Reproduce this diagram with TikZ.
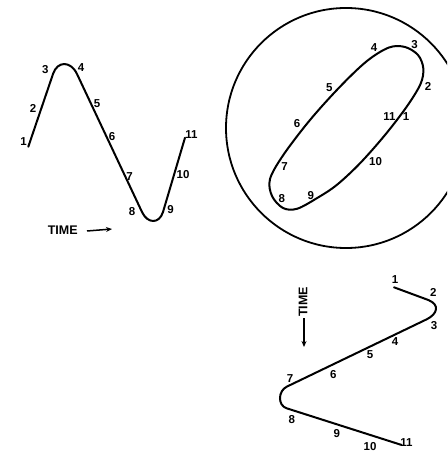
\documentclass[tikz,border=0pt]{standalone}
\usepackage{fontspec}
\setmainfont{Liberation Sans}
\usetikzlibrary{arrows.meta}
\begin{document}
\begin{tikzpicture}[x=1pt,y=-1pt,
  curve/.style={line width=2pt,line cap=round,line join=round},
  ring/.style={line width=1.8pt},
  num/.style={font=\fontsize{11.5}{13}\selectfont\bfseries,inner sep=0pt},
  timelbl/.style={font=\fontsize{12.5}{14}\selectfont\bfseries,inner sep=0pt},
  timearrow/.style={line width=1.5pt,-{Stealth[length=6pt,width=5pt]}}]
\useasboundingbox (0,0) rectangle (447,454);
\clip (0,0) rectangle (447,454);
% ---------- top left: wave ----------
\draw[curve] (28.3,146.7) -- (53,74) .. controls (57.4,60.7) and (70.7,60.7) .. (77,74)
  -- (142,212) .. controls (147.6,224) and (159.3,224) .. (163,212) -- (185,137.7);
\node[num] (a1) at (23.5,141.7) {1};
\node[num] (a2) at (33,108.3) {2};
\node[num] (a3) at (45.2,69.5) {3};
\node[num] (a4) at (81,67.3) {4};
\node[num] (a5) at (97,103.3) {5};
\node[num] (a6) at (112,136.7) {6};
\node[num] (a7) at (129.5,176.7) {7};
\node[num] (a8) at (132,211.7) {8};
\node[num] (a9) at (170.5,209.3) {9};
\node[num] (a10) at (183,174.3) {10};
\node[num] (a11) at (191.5,135) {11};
\node[timelbl] (at) at (62.7,230.5) {TIME};
\coordinate (ata) at (87,231);
\coordinate (atb) at (112,229);
\draw[timearrow] (ata) -- (atb);
% ---------- top right: circle and loop ----------
\draw[ring] (346,128) circle[radius=120pt];
\draw[curve] plot[smooth cycle,tension=0.55] coordinates {
  (423.3,68.3) (420.5,84) (406.7,106.7) (385,135) (360,163.3) (336.7,185)
  (316.7,198.3) (297,208.8) (283,208) (272,196) (270,179) (283.3,155)
  (310,120) (340,86.7) (367,61) (389,47.5) (405,47) (418,55)};
\node[num] (b4) at (374,47.8) {4};
\node[num] (b3) at (414.5,45) {3};
\node[num] (b2) at (428,86) {2};
\node[num] (b1) at (406,116.7) {1};
\node[num] (b11) at (389.5,116.7) {11};
\node[num] (b10) at (375.5,161.7) {10};
\node[num] (b9) at (310.7,196) {9};
\node[num] (b8) at (281.7,198.3) {8};
\node[num] (b7) at (284.5,166.7) {7};
\node[num] (b6) at (297,124) {6};
\node[num] (b5) at (329.3,88) {5};
% ---------- bottom right: zigzag ----------
\draw[curve] (394,287.3) -- (428.3,300) .. controls (439.8,304.6) and (437.8,313.8) .. (426.7,319.3)
  -- (286.7,386.7) .. controls (278,391) and (277.5,405.4) .. (286.7,408.3) -- (401.7,445);
\node[num] (c1) at (395,279.5) {1};
\node[num] (c2) at (433.3,292.5) {2};
\node[num] (c3) at (434,325.5) {3};
\node[num] (c4) at (395,341.7) {4};
\node[num] (c5) at (370,355) {5};
\node[num] (c6) at (333.3,375) {6};
\node[num] (c7) at (290,378.3) {7};
\node[num] (c8) at (291.7,420) {8};
\node[num] (c9) at (336.7,433.3) {9};
\node[num] (c10) at (370,446.7) {10};
\node[num] (c11) at (406.5,442.7) {11};
\node[timelbl,rotate=90] (ct) at (303,302) {TIME};
\coordinate (cta) at (304,318);
\coordinate (ctb) at (304,347);
\draw[timearrow] (cta) -- (ctb);
\end{tikzpicture}
\end{document}
